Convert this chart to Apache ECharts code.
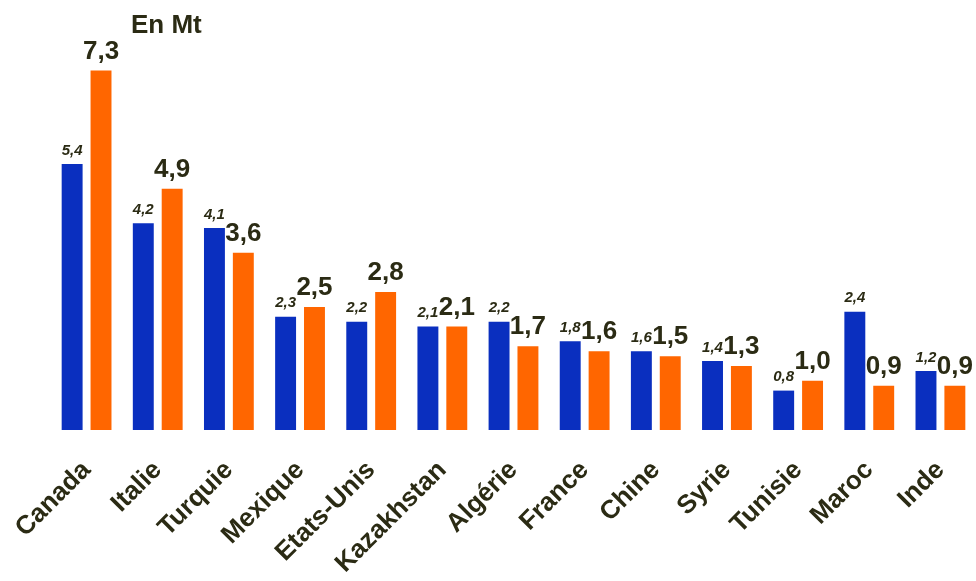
<!DOCTYPE html>
<html>
<head>
<meta charset="utf-8">
<script src="https://cdn.jsdelivr.net/npm/echarts@6/dist/echarts.min.js"></script>
<style>html,body{margin:0;padding:0;background:#fff;}#c{width:976px;height:581px;}</style>
</head>
<body>
<div id="c"></div>
<script>
const categories = ["Canada","Italie","Turquie","Mexique","Etats-Unis","Kazakhstan","Algérie","France","Chine","Syrie","Tunisie","Maroc","Inde"];
const blueValues = [5.4,4.2,4.1,2.3,2.2,2.1,2.2,1.8,1.6,1.4,0.8,2.4,1.2];
const orangeValues = [7.3,4.9,3.6,2.5,2.8,2.1,1.7,1.6,1.5,1.3,1.0,0.9,0.9];
const unitLabel = "En Mt";

const fmt = p => p.value.toFixed(1).replace('.', ',');
const textColor = '#2b2b14';
const chart = echarts.init(document.getElementById('c'));
chart.setOption({
  animation: false,
  backgroundColor: '#fff',
  grid: { left: 51, right: -1, top: 36, bottom: 151, containLabel: false },
  title: {
    text: unitLabel, left: 126, top: 8,
    textStyle: { fontFamily: 'Liberation Sans, Arial, sans-serif', fontWeight: 'bold', fontSize: 26, color: textColor }
  },
  xAxis: {
    type: 'category', data: categories,
    axisLine: { show: false }, axisTick: { show: false },
    axisLabel: {
      rotate: 45, interval: 0, margin: 36,
      fontFamily: 'Liberation Sans, Arial, sans-serif', fontWeight: 'bold', fontSize: 26, color: textColor
    }
  },
  yAxis: {
    type: 'value', min: 0, max: 8, show: false,
    splitLine: { show: false }
  },
  series: [
    {
      type: 'bar', data: blueValues, barGap: '38%', barCategoryGap: '30%',
      itemStyle: { color: '#0a2fbf' },
      label: {
        show: true, position: 'top', distance: 6, formatter: fmt,
        fontFamily: 'Liberation Sans, Arial, sans-serif', fontStyle: 'italic', fontWeight: 'bold', fontSize: 15, color: textColor
      }
    },
    {
      type: 'bar', data: orangeValues,
      itemStyle: { color: '#ff6600' },
      label: {
        show: true, position: 'top', distance: 6, formatter: fmt,
        fontFamily: 'Liberation Sans, Arial, sans-serif', fontWeight: 'bold', fontSize: 26, color: textColor
      }
    }
  ]
});
</script>
</body>
</html>
